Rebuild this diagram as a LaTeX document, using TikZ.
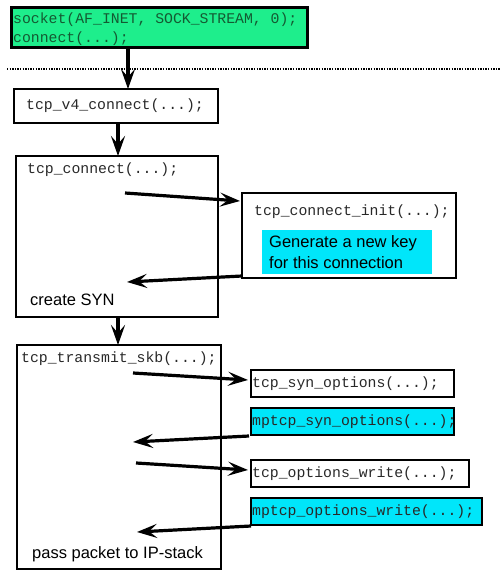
\documentclass[tikz,border=0pt]{standalone}
\usepackage{fontspec}
\setmainfont{Liberation Sans}
\setmonofont{Liberation Mono}
\usetikzlibrary{arrows.meta,calc}
\definecolor{boxgreen}{RGB}{30,238,140}
\definecolor{boxcyan}{RGB}{0,230,250}
\definecolor{txtgreen}{RGB}{20,90,50}
\definecolor{txtgray}{RGB}{40,40,40}
\tikzset{
  box/.style={draw=black, line width=1.8bp, inner sep=0pt, outer sep=0pt, anchor=north west},
  topbox/.style={box, fill=boxgreen, line width=3bp},
  cyanbox/.style={draw=black, line width=1.5bp, fill=boxcyan, inner sep=0pt, outer sep=0pt, anchor=north west},
  cyanfill/.style={fill=boxcyan, inner sep=0pt, outer sep=0pt, anchor=north west},
  mono/.style={anchor=base west, inner sep=0pt, font=\fontsize{14.8bp}{19bp}\ttfamily, text=txtgray},
  sans/.style={anchor=base west, inner sep=0pt, font=\fontsize{16.5bp}{20bp}\rmfamily, text=black},
  arr/.style={line width=3.2bp, -{Stealth[length=20bp,width=14bp,inset=8bp]}},
}
\begin{document}
\begin{tikzpicture}[x=1bp,y=-1bp]
\useasboundingbox (0,0) rectangle (500,574);
% top green box
\node[topbox, minimum width=296bp, minimum height=40bp] (top) at (11,8) {};
\node[mono, text=txtgreen] (topl1) at (13,24) {socket(AF\_INET, SOCK\_STREAM, 0);};
\node[mono, text=txtgreen] (topl2) at (13,43) {connect(...);};
% dotted separator
\draw[line width=1.3bp, dash pattern=on 1.3bp off 1.3bp] (7,69) -- (500,69);
% tcp_v4_connect
\node[box, minimum width=204bp, minimum height=34bp] (v4) at (14,89) {};
\node[mono] (v4t) at (26,110) {tcp\_v4\_connect(...);};
% tcp_connect
\node[box, minimum width=202bp, minimum height=161bp] (tcpc) at (16,156) {};
\node[mono] (tcpct) at (27,173) {tcp\_connect(...);};
\node[sans] (syn) at (30,305) {create SYN};
% tcp_connect_init
\node[box, minimum width=214bp, minimum height=85bp] (init) at (242,193) {};
\node[mono] (initt) at (254,215) {tcp\_connect\_init(...);};
\node[cyanfill, minimum width=170bp, minimum height=44bp] (key) at (262,230) {};
\node[sans] (key1) at (269,247) {Generate a new key};
\node[sans] (key2) at (269,268) {for this connection};
% tcp_transmit_skb
\node[box, minimum width=204bp, minimum height=224bp] (tts) at (17,345) {};
\node[mono] (ttst) at (21,362) {tcp\_transmit\_skb(...);};
\node[sans] (ip) at (32,558) {pass packet to IP-stack};
% options boxes
\node[box, minimum width=203bp, minimum height=27bp] (so) at (251,370) {};
\node[mono] (sot) at (252,387) {tcp\_syn\_options(...);};
\node[cyanbox, minimum width=203bp, minimum height=27bp] (mso) at (251,408) {};
\node[mono] (msot) at (252,425) {mptcp\_syn\_options(...);};
\node[box, minimum width=218bp, minimum height=27bp] (ow) at (251,460) {};
\node[mono] (owt) at (252,477) {tcp\_options\_write(...);};
\node[cyanbox, minimum width=231bp, minimum height=27bp] (mow) at (251,498) {};
\node[mono] (mowt) at (252,515) {mptcp\_options\_write(...);};
% free ends
\coordinate (s1) at (125,193);
\coordinate (r1) at (127,282);
\coordinate (s2) at (133,373);
\coordinate (r2) at (133,442);
\coordinate (s3) at (136,463);
\coordinate (r3) at (137,532);
% vertical arrows
\draw[arr] ($(top.south west)+(117,0)$) -- ($(v4.north west)+(114,0)$);
\draw[arr] ($(v4.south west)+(104,0)$) -- ($(tcpc.north west)+(102,0)$);
\draw[arr] ($(tcpc.south west)+(102,0)$) -- ($(tts.north west)+(101,0)$);
% horizontal arrows
\draw[arr] (s1) -- ($(init.north west)+(-2,8)$);
\draw[arr] ($(init.south west)+(0,-2)$) -- (r1);
\draw[arr] (s2) -- ($(so.north west)+(-3,10)$);
\draw[arr] ($(mso.south west)+(-2,1)$) -- (r2);
\draw[arr] (s3) -- ($(ow.north west)+(-3,10)$);
\draw[arr] ($(mow.south west)+(0,1)$) -- (r3);
\end{tikzpicture}
\end{document}
